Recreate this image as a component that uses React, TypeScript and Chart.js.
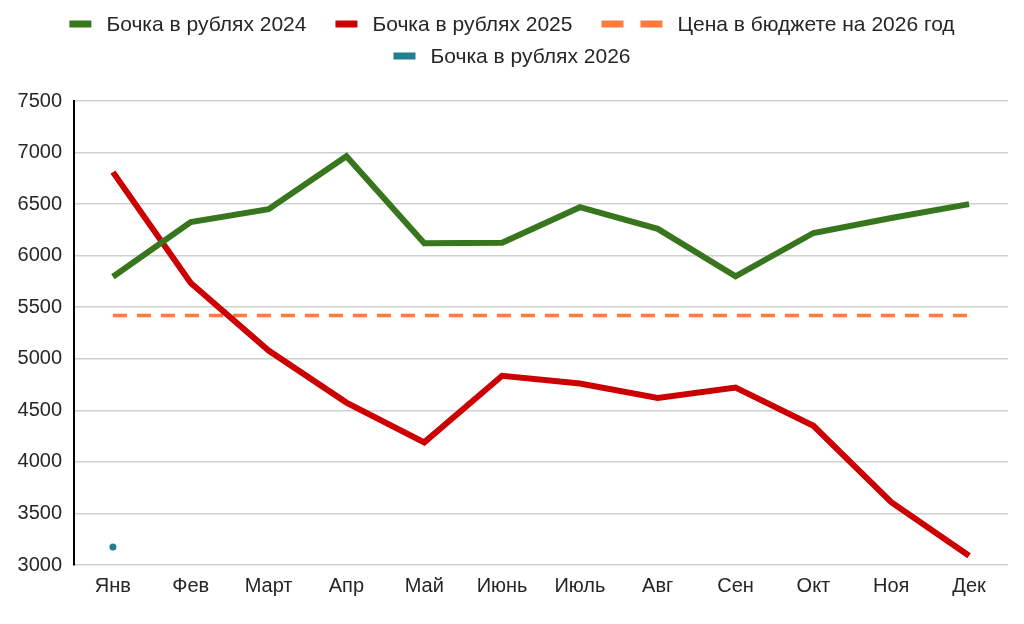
import { useEffect, useRef } from 'react';
import { Chart, registerables } from 'chart.js';

Chart.register(...registerables);

const months = ['Янв', 'Фев', 'Март', 'Апр', 'Май', 'Июнь', 'Июль', 'Авг', 'Сен', 'Окт', 'Ноя', 'Дек'];
const barrel2024 = [5795, 6325, 6450, 6965, 6120, 6125, 6470, 6260, 5800, 6220, 6365, 6500];
const barrel2025 = [6810, 5735, 5080, 4575, 4190, 4835, 4760, 4620, 4720, 4350, 3610, 3090];
const budgetPrice = [5420, 5420, 5420, 5420, 5420, 5420, 5420, 5420, 5420, 5420, 5420, 5420];
const barrel2026 = [3175, null, null, null, null, null, null, null, null, null, null, null];
const yTicks = [3000, 3500, 4000, 4500, 5000, 5500, 6000, 6500, 7000, 7500];

const FONT = '"Liberation Sans", Arial, sans-serif';
const TEXT = '#262626';

// legend drawn by hand: Chart.js boxes can't show the two-dash marker
const legendPlugin = {
  id: 'sheetLegend',
  afterDraw(chart: any) {
    const ctx = chart.ctx;
    ctx.save();
    ctx.font = `21px ${FONT}`;
    ctx.textBaseline = 'middle';
    const items = chart.data.datasets.map((ds: any) => {
      const dashed = !!(ds.borderDash && ds.borderDash.length);
      const markW = dashed ? 61 : 22;
      const textW = ctx.measureText(ds.label).width;
      return { ds, dashed, markW, w: markW + 15 + textW };
    });
    const gap = 29;
    const maxW = 920;
    const rows: any[][] = [[]];
    let rowW = 0;
    items.forEach((it: any) => {
      const add = rows[rows.length - 1].length ? gap + it.w : it.w;
      if (rowW + add > maxW) {
        rows.push([it]);
        rowW = it.w;
      } else {
        rows[rows.length - 1].push(it);
        rowW += add;
      }
    });
    rows.forEach((row, ri) => {
      const total = row.reduce((s, it) => s + it.w, 0) + gap * (row.length - 1);
      let x = (chart.width - total) / 2;
      const y = 24 + ri * 32;
      row.forEach((it) => {
        ctx.fillStyle = it.ds.legendColor;
        ctx.fillRect(x, y - 3.5, 22, 7);
        if (it.dashed) ctx.fillRect(x + 39, y - 3.5, 22, 7);
        ctx.fillStyle = TEXT;
        ctx.fillText(it.ds.label, x + it.markW + 15, y + 1);
        x += it.w + gap;
      });
    });
    ctx.restore();
  },
};

export default function App() {
  const canvasRef = useRef<HTMLCanvasElement>(null);
  const chartRef = useRef<Chart | null>(null);

  useEffect(() => {
    document.body.style.margin = '0';
    if (!canvasRef.current) return;
    if (chartRef.current) chartRef.current.destroy();

    chartRef.current = new Chart(canvasRef.current, {
      type: 'line',
      data: {
        labels: months,
        datasets: [
          {
            label: 'Бочка в рублях 2024',
            data: barrel2024,
            borderColor: '#38761d',
            legendColor: '#38761d',
            borderWidth: 6,
            pointRadius: 0,
            tension: 0,
          } as any,
          {
            label: 'Бочка в рублях 2025',
            data: barrel2025,
            borderColor: '#cc0000',
            legendColor: '#cc0000',
            borderWidth: 6,
            pointRadius: 0,
            tension: 0,
          },
          {
            label: 'Цена в бюджете на 2026 год',
            data: budgetPrice,
            borderColor: '#ff7b3b',
            legendColor: '#ff7b3b',
            borderWidth: 3.5,
            borderDash: [14, 10],
            pointRadius: 0,
            tension: 0,
          },
          {
            label: 'Бочка в рублях 2026',
            data: barrel2026,
            borderColor: '#227f8d',
            backgroundColor: '#227f8d',
            legendColor: '#227f8d',
            pointBackgroundColor: '#227f8d',
            pointBorderWidth: 0,
            pointRadius: 3.5,
            showLine: false,
          },
        ] as any,
      },
      options: {
        responsive: false,
        animation: false,
        layout: { padding: { top: 101, left: 0, right: 16, bottom: 17 } },
        plugins: {
          legend: { display: false },
          tooltip: { enabled: false },
        },
        scales: {
          x: {
            offset: true,
            grid: { display: false, drawTicks: false },
            border: { display: false },
            ticks: { font: { family: FONT, size: 20 }, color: TEXT, padding: 9, maxRotation: 0 },
          },
          y: {
            min: yTicks[0],
            max: yTicks[yTicks.length - 1],
            afterBuildTicks: (scale: any) => {
              scale.ticks = yTicks.map((v) => ({ value: v }));
            },
            afterFit: (scale: any) => {
              scale.width = 74;
            },
            grid: { color: '#d0d0d0', lineWidth: 1.5, drawTicks: false },
            border: { display: true, color: '#000000', width: 2 },
            ticks: {
              font: { family: FONT, size: 20 },
              color: TEXT,
              padding: 12,
              callback: (v: any) => String(v),
            },
          },
        },
      },
      plugins: [legendPlugin],
    });

    return () => {
      if (chartRef.current) {
        chartRef.current.destroy();
        chartRef.current = null;
      }
    };
  }, []);

  return (
    <div style={{ width: 1024, height: 624, background: '#fff' }}>
      <canvas ref={canvasRef} width={1024} height={624} style={{ width: 1024, height: 624 }} />
    </div>
  );
}
